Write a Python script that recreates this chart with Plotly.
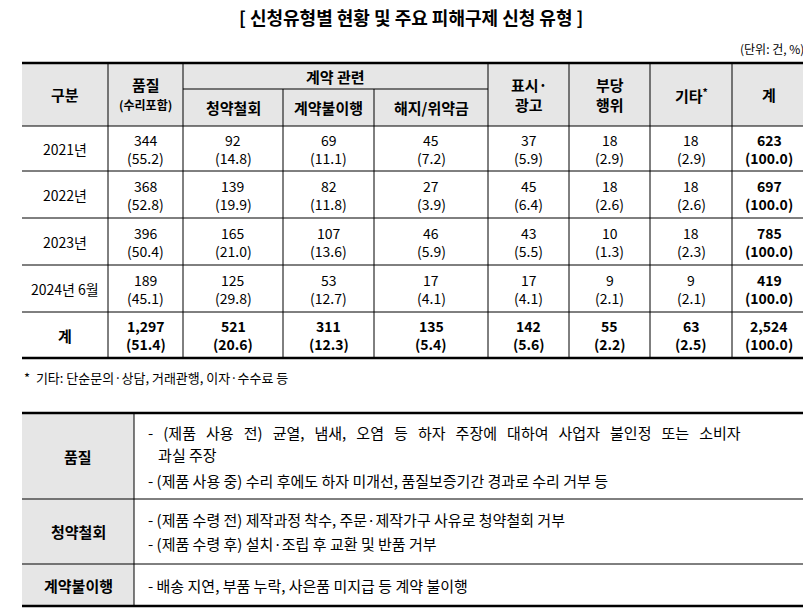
import plotly.graph_objects as go

# data
years = ["2021년", "2022년", "2023년", "2024년 6월"]
counts = [
    [344, 92, 69, 45, 37, 18, 18, 623],
    [368, 139, 82, 27, 45, 18, 18, 697],
    [396, 165, 107, 46, 43, 10, 18, 785],
    [189, 125, 53, 17, 17, 9, 9, 419],
]
shares = [
    [55.2, 14.8, 11.1, 7.2, 5.9, 2.9, 2.9, 100.0],
    [52.8, 19.9, 11.8, 3.9, 6.4, 2.6, 2.6, 100.0],
    [50.4, 21.0, 13.6, 5.9, 5.5, 1.3, 2.3, 100.0],
    [45.1, 29.8, 12.7, 4.1, 4.1, 2.1, 2.1, 100.0],
]
total_counts = [1297, 521, 311, 135, 142, 55, 63, 2524]
total_shares = [51.4, 20.6, 12.3, 5.4, 5.6, 2.2, 2.5, 100.0]

desc_labels = ["품질", "청약철회", "계약불이행"]
desc_lines = [
    ["- (제품 사용 전) 균열, 냄새, 오염 등 하자 주장에 대하여 사업자 불인정 또는 소비자",
     "   과실 주장",
     "- (제품 사용 중) 수리 후에도 하자 미개선, 품질보증기간 경과로 수리 거부 등"],
    ["- (제품 수령 전) 제작과정 착수, 주문·제작가구 사유로 청약철회 거부",
     "- (제품 수령 후) 설치·조립 후 교환 및 반품 거부"],
    ["- 배송 지연, 부품 누락, 사은품 미지급 등 계약 불이행"],
]

# layout geometry (page pixels)
cols = [22, 108, 183, 283, 374, 488, 569, 650, 732, 806]
rows = [126, 171, 218, 265, 312, 358]
head_top, head_mid = 63, 89
low_rows = [413, 499, 564, 606]
low_split = 134
FONT = "Noto Sans CJK KR"
GRAY = "#e6e6e6"
OFF = 8  # page body margin

fig = go.Figure()
shapes, ann = [], []


def line(x0, y0, x1, y1, w=1):
    shapes.append(dict(type="line", x0=x0, y0=y0, x1=x1, y1=y1,
                       line=dict(color="black", width=w), layer="above"))


def text(x, y, s, size=14, bold=False, anchor="center"):
    if bold:
        s = "<b>" + s + "</b>"
    ann.append(dict(x=x, y=y, text=s, showarrow=False, xanchor=anchor,
                    yanchor="middle", font=dict(family=FONT, size=size, color="black")))


shapes.append(dict(type="rect", x0=cols[0], y0=head_top, x1=cols[-1], y1=rows[0],
                   fillcolor=GRAY, line=dict(width=0), layer="below"))
shapes.append(dict(type="rect", x0=cols[0], y0=low_rows[0], x1=low_split, y1=low_rows[-1],
                   fillcolor=GRAY, line=dict(width=0), layer="below"))

line(cols[0], head_top, cols[-1], head_top, 2.5)
line(cols[2], head_mid, cols[5], head_mid)
for r in rows[:-1]:
    line(cols[0], r, cols[-1], r)
line(cols[0], rows[-1], cols[-1], rows[-1], 2.5)
for i, c in enumerate(cols[1:-1], start=1):
    top = head_mid if i in (3, 4) else head_top
    line(c, top, c, rows[-1])

hy = (head_top + rows[0]) / 2
mid = lambda i: (cols[i] + cols[i + 1]) / 2
text(mid(0), hy, "구분", 15, True)
text(mid(1), hy - 10, "품질", 15, True)
text(mid(1), hy + 10, "(수리포함)", 12, True)
text((cols[2] + cols[5]) / 2, (head_top + head_mid) / 2, "계약 관련", 15, True)
sy = (head_mid + rows[0]) / 2
for i, s in zip((2, 3, 4), ("청약철회", "계약불이행", "해지/위약금")):
    text(mid(i), sy, s, 15, True)
text(mid(5), hy - 10, "표시·", 15, True)
text(mid(5), hy + 10, "광고", 15, True)
text(mid(6), hy - 10, "부당", 15, True)
text(mid(6), hy + 10, "행위", 15, True)
text(mid(7), hy, "기타<sup>*</sup>", 15, True)
text(mid(8), hy, "계", 15, True)

all_rows = list(zip(years, counts, shares)) + [("계", total_counts, total_shares)]
for k, (lab, cnt, shr) in enumerate(all_rows):
    ry = (rows[k] + rows[k + 1]) / 2
    is_total = lab == "계"
    text(mid(0), ry, lab, 15 if is_total else 14, is_total)
    for j, (c, s) in enumerate(zip(cnt, shr)):
        b = is_total or j == 7
        text(mid(j + 1), ry - 9, f"{c:,}", 14, b)
        text(mid(j + 1), ry + 9, f"({s:.1f})", 14, b)

text(411, 17, "[ 신청유형별 현황 및 주요 피해구제 신청 유형 ]", 18, True)
text(806, 48, "(단위: 건, %)", 12, anchor="right")
text(22, 377, "*  기타: 단순문의·상담, 거래관행, 이자·수수료 등", 13, anchor="left")

line(cols[0], low_rows[0], cols[-1], low_rows[0], 2.5)
line(cols[0], low_rows[1], cols[-1], low_rows[1])
line(cols[0], low_rows[2], cols[-1], low_rows[2])
line(cols[0], low_rows[3], cols[-1], low_rows[3], 2.5)
line(low_split, low_rows[0], low_split, low_rows[3])
for k, (lab, lines) in enumerate(zip(desc_labels, desc_lines)):
    y0, y1 = low_rows[k], low_rows[k + 1]
    text((cols[0] + low_split) / 2, (y0 + y1) / 2, lab, 15, True)
    n = len(lines)
    gaps = [0, 22, 48] if n == 3 else [0, 24][:n]
    start = (y0 + y1) / 2 - gaps[-1] / 2
    for g, s in zip(gaps, lines):
        if n == 3 and g == 0:
            s = s.replace(" ", "\u00a0\u00a0\u00a0")  # justified wrapped line
        else:
            s = s.replace(" ", "\u00a0")
        text(146, start + g, s, 15, anchor="left")

fig.update_layout(
    width=811, height=611, margin=dict(l=0, r=0, t=0, b=0),
    paper_bgcolor="white", plot_bgcolor="white",
    xaxis=dict(range=[OFF, 811 + OFF], visible=False, fixedrange=True),
    yaxis=dict(range=[611 + OFF, OFF], visible=False, fixedrange=True),
    shapes=shapes, annotations=ann, showlegend=False,
)
fig.write_html("out.html")
